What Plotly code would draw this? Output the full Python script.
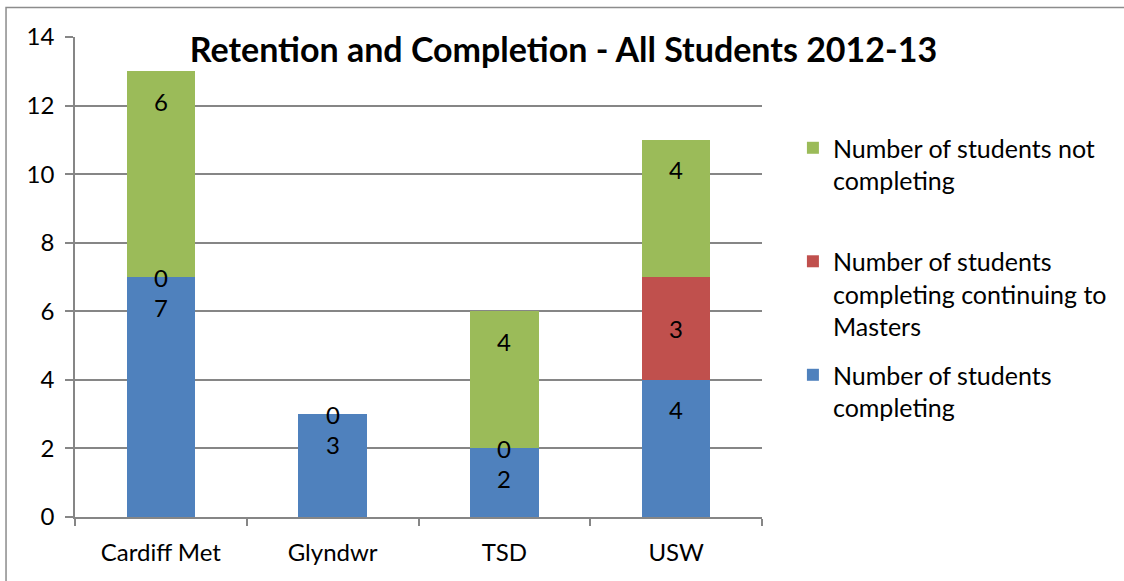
import plotly.graph_objects as go

categories = ["Cardiff Met", "Glyndwr", "TSD", "USW"]
completing = [7, 3, 2, 4]
continuing_masters = [0, 0, 0, 3]
not_completing = [6, None, 4, 4]

series_names = [
    "Number of students<br>completing",
    "Number of students<br>completing continuing to<br>Masters",
    "Number of students not<br>completing<br> ",
]
colors = ["#4F81BD", "#C0504D", "#9BBB59"]
legend_ranks = [3, 2, 1]
y_ticks = [0, 2, 4, 6, 8, 10, 12, 14]

FONT = "Lato"
GRID = "#868686"

fig = go.Figure()
for name, vals, col, rank in zip(series_names,
                                 [completing, continuing_masters, not_completing],
                                 colors, legend_ranks):
    fig.add_trace(go.Bar(x=categories, y=vals, name=name, marker_color=col,
                         marker_line_width=0, legendgroup=name, legendrank=rank))

# data labels: blue / green near top of segment, red centred on segment
annotations = []
for i, cat in enumerate(categories):
    base = completing[i]
    annotations.append(dict(x=cat, y=base, text=str(completing[i]), yshift=-30))
    mid = base + continuing_masters[i] / 2
    annotations.append(dict(x=cat, y=mid, text=str(continuing_masters[i]), yshift=0))
    if not_completing[i] is not None:
        top = base + continuing_masters[i] + not_completing[i]
        annotations.append(dict(x=cat, y=top, text=str(not_completing[i]), yshift=-30))
for a in annotations:
    a.update(xref="x", yref="y", showarrow=False, yanchor="middle",
             font=dict(family=FONT, size=24, color="black"))

fig.update_layout(
    barmode="stack",
    bargap=0.6,
    width=1124, height=581,
    margin=dict(l=75, r=357, t=37, b=64),
    paper_bgcolor="white", plot_bgcolor="white",
    font=dict(family=FONT, size=24, color="black"),
    title=dict(text="<b>Retention and Completion - All Students 2012-13</b>",
               x=0.711, xref="paper", xanchor="center",
               y=0.973, yref="paper", yanchor="middle",
               font=dict(family=FONT, size=34, color="black")),
    legend=dict(x=1.045, xanchor="left", y=0.8166, yanchor="top",
                traceorder="grouped", valign="top", tracegroupgap=13,
                font=dict(family=FONT, size=25, color="black"),
                itemwidth=30),
    annotations=annotations,
    shapes=[dict(type="rect", xref="paper", yref="paper",
                 x0=-0.1004, x1=1.6, y0=-0.2, y1=1.0615,
                 line=dict(color="#8c8c8c", width=1.5), layer="below")],
)
fig.update_xaxes(showline=True, linecolor=GRID, linewidth=1.5,
                 ticks="outside", tickson="boundaries", ticklen=7, tickcolor=GRID,
                 tickwidth=1.5, ticklabelstandoff=13)
fig.update_yaxes(range=[0, 14], tickvals=y_ticks, showline=True, linecolor=GRID,
                 linewidth=1.5, showgrid=True, gridcolor=GRID, gridwidth=1.5,
                 ticks="outside", ticklen=8, tickcolor=GRID, tickwidth=1.5,
                 ticklabelstandoff=6, zeroline=False)

fig.write_html("out.html", config={"displayModeBar": False},
               post_script="document.body.style.margin='0';")
